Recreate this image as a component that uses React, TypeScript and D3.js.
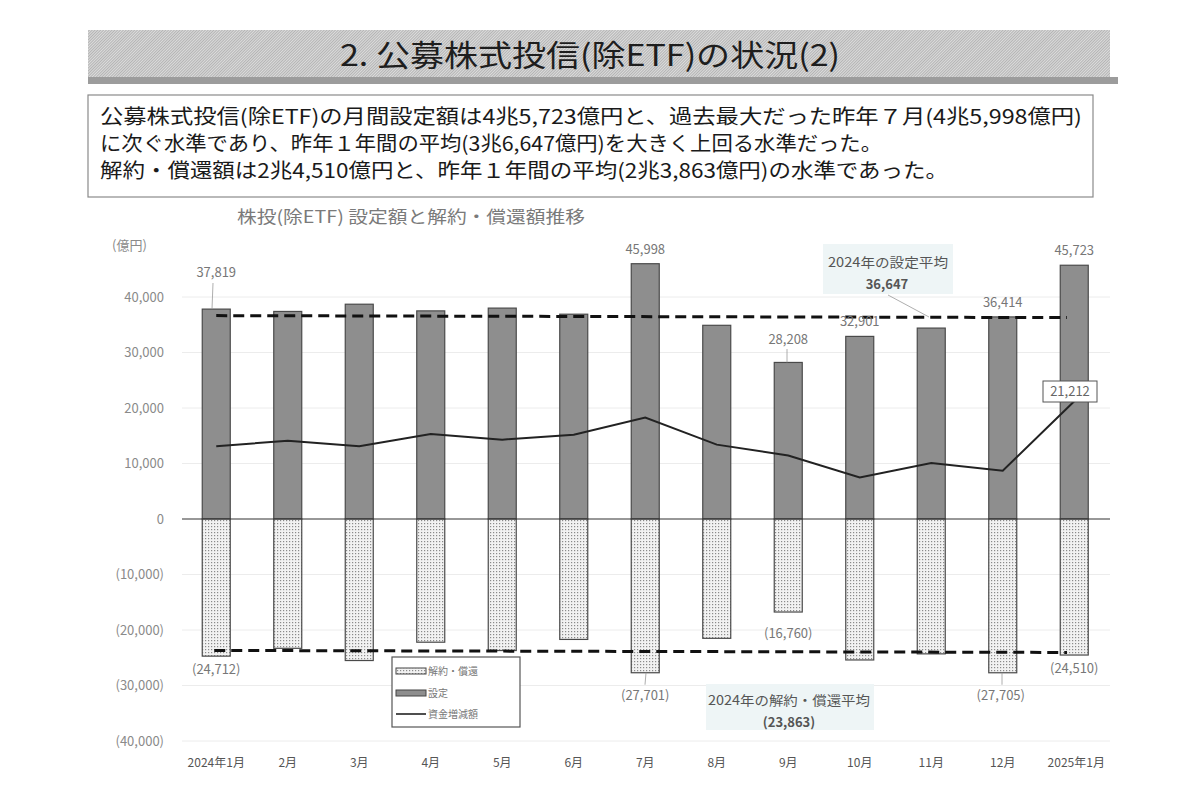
import React from "react";
import * as d3 from "d3";

const months = ["2024年1月", "2月", "3月", "4月", "5月", "6月", "7月", "8月", "9月", "10月", "11月", "12月", "2025年1月"];
const setting = [37819, 37400, 38700, 37500, 38000, 36900, 45998, 34900, 28208, 32901, 34400, 36414, 45723];
const redemption = [-24712, -23300, -25500, -22200, -23700, -21700, -27701, -21500, -16760, -25400, -24300, -27705, -24510];
const netFlow = [13107, 14100, 13100, 15300, 14300, 15200, 18297, 13400, 11448, 7500, 10100, 8709, 21212];
const yTicks = [40000, 30000, 20000, 10000, 0, -10000, -20000, -30000, -40000];
const settingAvg = 36647;
const redemptionAvg = -23863;
const settingLabels = [
  { i: 0, text: "37,819" },
  { i: 6, text: "45,998" },
  { i: 8, text: "28,208" },
  { i: 9, text: "32,901" },
  { i: 11, text: "36,414" },
  { i: 12, text: "45,723" },
];
const redemptionLabels = [
  { i: 0, text: "(24,712)" },
  { i: 6, text: "(27,701)" },
  { i: 8, text: "(16,760)" },
  { i: 11, text: "(27,705)" },
  { i: 12, text: "(24,510)" },
];

const FONT = "'Noto Sans CJK JP', 'Noto Sans', sans-serif";
const fmt = (v: number) => (v < 0 ? `(${d3.format(",")(-v)})` : d3.format(",")(v));

export default function App() {
  const x = d3.scaleBand<string>().domain(months).range([180.5, 1110]).paddingInner(0.6).paddingOuter(0.3);
  const y = d3.scaleLinear().domain([-40000, 40000]).range([741, 297]);
  const bw = 28;
  const cx = (i: number) => (x(months[i]) as number) + x.bandwidth() / 2;
  const line = d3.line<number>().x((_, i) => cx(i)).y((d) => y(d));
  const sLabelY = (i: number) => (i === 0 ? 277 : i === 8 ? y(setting[i]) - 18 : y(setting[i]) - 10);

  return (
    <svg width={1200} height={800} style={{ display: "block", position: "absolute", left: 0, top: 0 }}>
      <defs>
        <pattern id="dots" width="3" height="3" patternUnits="userSpaceOnUse">
          <rect width="3" height="3" fill="#f2f2f2" />
          <rect x="1" y="1" width="1.2" height="1.2" fill="#8a8a8a" />
        </pattern>
        <pattern id="hatch" width="2" height="2" patternUnits="userSpaceOnUse" patternTransform="rotate(45)">
          <rect width="2" height="2" fill="#dcdcdc" />
          <rect width="0.9" height="2" fill="#b0b0b0" />
        </pattern>
      </defs>
      <rect width={1200} height={800} fill="#ffffff" />

      {/* Title banner */}
      <rect x={88} y={30} width={1022} height={48} fill="url(#hatch)" />
      <rect x={88} y={77} width={1030} height={7} fill="#9c9c9c" />
      <text x={340} y={66} fontFamily={FONT} fontSize={30} fill="#1e1e1e" textLength={500} lengthAdjust="spacingAndGlyphs">
        2. 公募株式投信(除ETF)の状況(2)
      </text>

      {/* Summary box */}
      <rect x={88} y={95} width={1005} height={102} fill="#ffffff" stroke="#8a8a8a" strokeWidth={1.2} />
      <text x={100} y={124} fontFamily={FONT} fontSize={20} fill="#1a1a1a" textLength={982} lengthAdjust="spacingAndGlyphs">
        公募株式投信(除ETF)の月間設定額は4兆5,723億円と、過去最大だった昨年７月(4兆5,998億円)
      </text>
      <text x={100} y={151} fontFamily={FONT} fontSize={20} fill="#1a1a1a" textLength={782} lengthAdjust="spacingAndGlyphs">
        に次ぐ水準であり、昨年１年間の平均(3兆6,647億円)を大きく上回る水準だった。
      </text>
      <text x={100} y={178} fontFamily={FONT} fontSize={20} fill="#1a1a1a" textLength={848} lengthAdjust="spacingAndGlyphs">
        解約・償還額は2兆4,510億円と、昨年１年間の平均(2兆3,863億円)の水準であった。
      </text>

      {/* Chart title */}
      <text x={237} y={223} fontFamily={FONT} fontSize={17} fill="#7a7a7a" textLength={348} lengthAdjust="spacingAndGlyphs">
        株投(除ETF) 設定額と解約・償還額推移
      </text>
      <text x={112} y={250} fontFamily={FONT} fontSize={13} fill="#8a8a8a">(億円)</text>

      {/* Gridlines */}
      {yTicks.filter((t) => t !== 0).map((t) => (
        <line key={"g" + t} x1={182} x2={1110} y1={y(t)} y2={y(t)} stroke="#ececec" strokeWidth={1} />
      ))}
      {/* Y ticks */}
      {yTicks.map((t) => (
        <text key={"t" + t} x={164} y={y(t) + 4.5} textAnchor="end" fontFamily={FONT} fontSize={13} fill="#8a8a8a">
          {fmt(t)}
        </text>
      ))}

      {/* Annotation backgrounds */}
      <rect x={823} y={244} width={130} height={50} fill="#eef5f6" />
      <rect x={706} y={684} width={168} height={46} fill="#eef5f6" />

      {/* Bars */}
      {setting.map((v, i) => (
        <rect key={"s" + i} x={cx(i) - bw / 2} y={y(v)} width={bw} height={y(0) - y(v)} fill="#8e8e8e" stroke="#4a4a4a" strokeWidth={1.2} />
      ))}
      {redemption.map((v, i) => (
        <rect key={"r" + i} x={cx(i) - bw / 2} y={y(0)} width={bw} height={y(v) - y(0)} fill="url(#dots)" stroke="#4a4a4a" strokeWidth={1.2} />
      ))}

      {/* Zero axis */}
      <line x1={182} x2={1110} y1={y(0)} y2={y(0)} stroke="#333" strokeWidth={1.2} />

      {/* Average dashed lines */}
      <line x1={cx(0)} x2={1067} y1={y(settingAvg)} y2={y(settingAvg) + 2} stroke="#111" strokeWidth={3} strokeDasharray="11,6" />
      <line x1={cx(0) - 2} x2={1067} y1={y(redemptionAvg) - 1} y2={y(redemptionAvg) + 1} stroke="#111" strokeWidth={3} strokeDasharray="11,6" />

      {/* Net flow line */}
      <path d={line(netFlow) as string} fill="none" stroke="#222" strokeWidth={2} />

      {/* Setting labels */}
      {settingLabels.map((l) => (
        <text key={"sl" + l.i} x={cx(l.i)} y={sLabelY(l.i)} textAnchor="middle" fontFamily={FONT} fontSize={13} fill="#777">
          {l.text}
        </text>
      ))}
      <line x1={213} x2={212} y1={283} y2={y(setting[0])} stroke="#999" strokeWidth={0.8} />
      <line x1={787} x2={787} y1={349} y2={y(setting[8])} stroke="#999" strokeWidth={0.8} />

      {/* Redemption labels */}
      {redemptionLabels.map((l) => (
        <text key={"rl" + l.i} x={cx(l.i) + (l.i === 11 ? -2 : 0)} y={y(redemption[l.i]) + (l.i === 6 || l.i === 11 ? 27 : l.i === 8 ? 26 : 18)} textAnchor="middle" fontFamily={FONT} fontSize={13} fill="#777">
          {l.text}
        </text>
      ))}
      <line x1={646} x2={645} y1={y(redemption[6])} y2={y(redemption[6]) + 12} stroke="#999" strokeWidth={0.8} />
      <line x1={1002} x2={1002} y1={y(redemption[11])} y2={y(redemption[11]) + 12} stroke="#999" strokeWidth={0.8} />

      {/* Net flow final label */}
      <rect x={1043} y={381} width={54} height={21} fill="#fff" stroke="#555" strokeWidth={1} />
      <text x={1070} y={396} textAnchor="middle" fontFamily={FONT} fontSize={13} fill="#666">21,212</text>

      {/* Setting avg annotation */}
      <text x={888} y={267} textAnchor="middle" fontFamily={FONT} fontSize={13} fill="#555" textLength={120} lengthAdjust="spacingAndGlyphs">2024年の設定平均</text>
      <text x={887} y={289} textAnchor="middle" fontFamily={FONT} fontSize={13} fontWeight="bold" fill="#555">36,647</text>
      <line x1={888} x2={929} y1={295} y2={317} stroke="#999" strokeWidth={0.8} />

      {/* Redemption avg annotation */}
      <text x={789} y={705} textAnchor="middle" fontFamily={FONT} fontSize={13} fill="#555" textLength={162} lengthAdjust="spacingAndGlyphs">2024年の解約・償還平均</text>
      <text x={789} y={727} textAnchor="middle" fontFamily={FONT} fontSize={13} fontWeight="bold" fill="#555">(23,863)</text>

      {/* Legend */}
      <rect x={392} y={657} width={128} height={70} fill="#fff" stroke="#555" strokeWidth={1.2} />
      <rect x={396} y={668} width={30} height={6} fill="url(#dots)" stroke="#444" strokeWidth={1} />
      <text x={428} y={675} fontFamily={FONT} fontSize={10} fill="#777">解約・償還</text>
      <rect x={396} y={690} width={30} height={6} fill="#8e8e8e" stroke="#444" strokeWidth={1} />
      <text x={428} y={697} fontFamily={FONT} fontSize={10} fill="#777">設定</text>
      <line x1={396} x2={426} y1={714} y2={714} stroke="#222" strokeWidth={1.6} />
      <text x={428} y={718} fontFamily={FONT} fontSize={10} fill="#777">資金増減額</text>

      {/* X labels */}
      {months.map((m, i) => (
        <text key={"x" + i} x={cx(i) + (i === 12 ? 2 : 0)} y={767} textAnchor="middle" fontFamily={FONT} fontSize={12} fill="#555">
          {m}
        </text>
      ))}
    </svg>
  );
}
